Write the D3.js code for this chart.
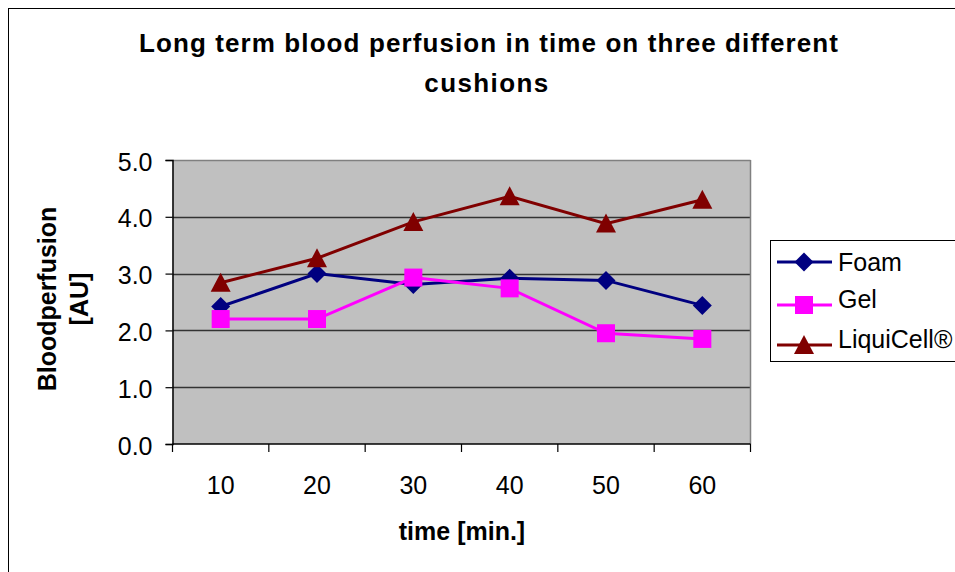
<!DOCTYPE html>
<html><head><meta charset="utf-8">
<script src="https://cdn.jsdelivr.net/npm/d3@7"></script>
<style>body{margin:0;background:#fff}svg{display:block}text{font-family:"Liberation Sans",Arial,sans-serif}</style>
</head><body>
<script>
const categories = [10, 20, 30, 40, 50, 60];
const foam = [2.42, 3.0, 2.81, 2.92, 2.88, 2.44];
const gel = [2.2, 2.2, 2.93, 2.74, 1.95, 1.85];
const liquicell = [2.84, 3.27, 3.91, 4.36, 3.88, 4.3];
const yTicks = [0, 1, 2, 3, 4, 5];
const seriesNames = ["Foam", "Gel", "LiquiCell®"];

const W = 955, H = 572;
const FONT = '"Liberation Sans",Arial,sans-serif';
const svg = d3.select("body").append("svg").attr("width", W).attr("height", H);
svg.append("rect").attr("x", 8.5).attr("y", 8.5).attr("width", W + 10).attr("height", H + 10)
  .attr("fill", "#fff").attr("stroke", "#000").attr("stroke-width", 1);

const L = 172.5, R = 750.5, T = 160, B = 444;
const x = d3.scaleBand().domain(categories).range([L, R]);
const y = d3.scaleLinear().domain([0, 5]).range([B, T]);

svg.append("rect").attr("x", L).attr("y", T).attr("width", R - L).attr("height", B - T).attr("fill", "#C0C0C0");
svg.append("g").selectAll("line").data(yTicks.filter(d => d > 0)).join("line")
  .attr("x1", L).attr("x2", R).attr("y1", d => Math.round(y(d)) + 0.5).attr("y2", d => Math.round(y(d)) + 0.5)
  .attr("stroke", d => d === 5 ? "#808080" : "#333").attr("stroke-width", 1.5);
svg.append("line").attr("x1", R).attr("x2", R).attr("y1", T).attr("y2", B).attr("stroke", "#808080").attr("stroke-width", 1.5);

const yAxis = d3.axisLeft(y).tickValues(yTicks).tickFormat(d3.format(".1f")).tickSize(7).tickPadding(13);
const gy = svg.append("g").attr("transform", `translate(${L},0)`).call(yAxis);
gy.select(".domain").attr("stroke", "#000").attr("stroke-width", 1.5);
gy.selectAll(".tick line").attr("stroke", "#000").attr("stroke-width", 1.2);
gy.selectAll("text").attr("font-size", 25).attr("fill", "#000").attr("dy", "0.4em").style("font-family", FONT);

const xAxis = d3.axisBottom(x).tickSize(0).tickPadding(32);
const gx = svg.append("g").attr("transform", `translate(0,${B})`).call(xAxis);
gx.select(".domain").remove();
gx.selectAll("text").attr("font-size", 25).attr("fill", "#000").style("font-family", FONT);
svg.append("line").attr("x1", L).attr("x2", R).attr("y1", B).attr("y2", B).attr("stroke", "#000").attr("stroke-width", 1.5);
const bounds = categories.map(c => x(c)).concat([R]);
svg.append("g").selectAll("line").data(bounds).join("line")
  .attr("x1", d => d).attr("x2", d => d).attr("y1", B).attr("y2", B + 8).attr("stroke", "#000").attr("stroke-width", 1.2);

const series = [
  {name: seriesNames[0], values: foam, color: "#000080", shape: "diamond"},
  {name: seriesNames[1], values: gel, color: "#FF00FF", shape: "square"},
  {name: seriesNames[2], values: liquicell, color: "#800000", shape: "triangle"}
];
const cx = c => x(c) + x.bandwidth() / 2;
const line = d3.line().x((d, i) => cx(categories[i])).y(d => y(d));
function marker(g, shape, color, px, py) {
  if (shape === "diamond") g.append("path").attr("d", `M${px},${py-9.5}L${px+9.5},${py}L${px},${py+9.5}L${px-9.5},${py}Z`).attr("fill", color);
  else if (shape === "square") g.append("rect").attr("x", px - 9).attr("y", py - 9).attr("width", 18).attr("height", 18).attr("fill", color);
  else g.append("path").attr("d", `M${px},${py-10}L${px+10},${py+9}L${px-10},${py+9}Z`).attr("fill", color);
}
series.forEach(s => {
  svg.append("path").datum(s.values).attr("d", line).attr("fill", "none").attr("stroke", s.color).attr("stroke-width", 3);
});
series.forEach(s => {
  const g = svg.append("g");
  s.values.forEach((v, i) => marker(g, s.shape, s.color, cx(categories[i]), y(v)));
});

const title = svg.append("text").attr("text-anchor", "middle").attr("font-size", 26).attr("font-weight", "bold").attr("letter-spacing", 1.1);
title.append("tspan").attr("x", 489).attr("y", 52).text("Long term blood perfusion in time on three different");
title.append("tspan").attr("x", 487).attr("y", 92).attr("letter-spacing", 1.4).text("cushions");

svg.append("text").attr("x", 462).attr("y", 540).attr("text-anchor", "middle").attr("font-size", 25).attr("font-weight", "bold").text("time [min.]");
const yt = svg.append("text").attr("transform", "translate(56,299) rotate(-90)").attr("text-anchor", "middle").attr("font-size", 25).attr("font-weight", "bold");
yt.append("tspan").attr("x", 0).attr("y", 0).text("Bloodperfusion");
yt.append("tspan").attr("x", 0).attr("y", 32).text("[AU]");

const lg = svg.append("g");
lg.append("rect").attr("x", 770.5).attr("y", 240.5).attr("width", 200).attr("height", 121).attr("fill", "#fff").attr("stroke", "#000").attr("stroke-width", 1);
series.forEach((s, i) => {
  const ly = [262, 305, 345][i];
  lg.append("line").attr("x1", 777).attr("x2", 832).attr("y1", ly).attr("y2", ly).attr("stroke", s.color).attr("stroke-width", 3);
  marker(lg, s.shape, s.color, 804, ly);
  lg.append("text").attr("x", 838).attr("y", [271, 308, 348][i]).attr("font-size", 25).text(s.name);
});
</script>
</body></html>
